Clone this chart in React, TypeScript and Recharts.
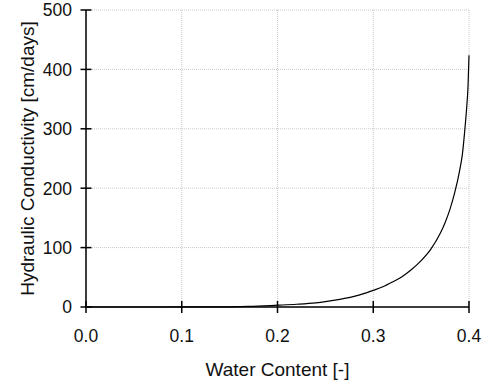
import { LineChart, Line, XAxis, YAxis, CartesianGrid } from "recharts";

const waterContent = [0, 0.05, 0.1, 0.12, 0.15, 0.17, 0.2, 0.22, 0.24, 0.25, 0.26, 0.27, 0.28, 0.29, 0.3, 0.31, 0.32, 0.33, 0.34, 0.35, 0.36, 0.37, 0.375, 0.38, 0.385, 0.39, 0.393, 0.396, 0.398, 0.399, 0.4];
const conductivity = [0, 0, 0.05, 0.1, 0.35, 0.9, 3, 4.6, 7, 9, 11.5, 14.5, 18, 22.5, 28, 34, 42, 51, 63, 78, 97, 124, 142, 164, 192, 228, 256, 305, 345, 372, 424];
const xTicks = [0, 0.1, 0.2, 0.3, 0.4];
const yTicks = [0, 100, 200, 300, 400, 500];

const data = waterContent.map((w, i) => ({ w, k: conductivity[i] }));

const font = "'Liberation Sans', Arial, sans-serif";

const YTick = ({ x, y, payload }: any) => (
  <g>
    <line x1={x - 5.5} x2={x + 5.5} y1={y} y2={y} stroke="#000" strokeWidth={1.5} />
    <text x={x - 14} y={y} dy="0.36em" textAnchor="end" fontFamily={font} fontSize={17.5} fill="#111">
      {payload.value}
    </text>
  </g>
);

const XTick = ({ x, y, payload }: any) => (
  <g>
    <line x1={x} x2={x} y1={y - 6} y2={y + 6} stroke="#000" strokeWidth={1.5} />
    <text x={x} y={y + 35} textAnchor="middle" fontFamily={font} fontSize={17.5} fill="#111">
      {Number(payload.value).toFixed(1)}
    </text>
  </g>
);

const YLabel = ({ viewBox }: any) => {
  const cx = viewBox.x + 27;
  const cy = viewBox.y + viewBox.height / 2;
  return (
    <text x={cx} y={cy} transform={`rotate(-90 ${cx} ${cy})`} textAnchor="middle" dominantBaseline="central" fontFamily={font} fontSize={19} fill="#111">
      Hydraulic Conductivity [cm/days]
    </text>
  );
};

const XLabel = ({ viewBox }: any) => (
  <text x={viewBox.x + viewBox.width / 2} y={viewBox.y + 69} textAnchor="middle" fontFamily={font} fontSize={19} fill="#111">
    Water Content [-]
  </text>
);

export default function App() {
  return (
    <div style={{ position: "absolute", left: 0, top: 0, background: "#fff" }}>
      <LineChart width={485} height={385} data={data} margin={{ top: 10, right: 16, bottom: 0, left: 0 }}>
        <CartesianGrid stroke="#c8c8c8" strokeDasharray="1 1" />
        <XAxis
          dataKey="w"
          type="number"
          domain={[0, 0.4]}
          ticks={xTicks}
          height={78}
          tickSize={0}
          tickMargin={0}
          tickLine={false}
          tick={<XTick />}
          axisLine={{ stroke: "#000", strokeWidth: 1.5 }}
          label={{ content: <XLabel /> }}
        />
        <YAxis
          type="number"
          domain={[0, 500]}
          ticks={yTicks}
          width={86}
          tickSize={0}
          tickMargin={0}
          tickLine={false}
          tick={<YTick />}
          axisLine={{ stroke: "#000", strokeWidth: 1.5 }}
          label={{ content: <YLabel /> }}
        />
        <Line type="monotone" dataKey="k" stroke="#000" strokeWidth={1.2} dot={false} isAnimationActive={false} />
      </LineChart>
    </div>
  );
}
